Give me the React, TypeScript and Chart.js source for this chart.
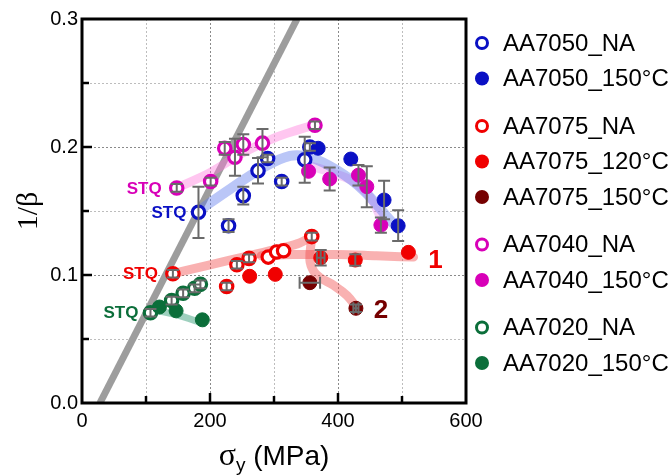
import React, { useEffect, useRef } from "react";
import { Chart, registerables } from "chart.js";

Chart.register(...registerables);

const SANS = '"Liberation Sans", Arial, sans-serif';
const SERIF = '"Liberation Serif", "Times New Roman", serif';

// ---------- data (σy in MPa, 1/β) ----------
const aa7050NA_x = [182, 229, 252, 275, 290, 312, 348, 356];
const aa7050NA_y = [0.149, 0.1385, 0.162, 0.1815, 0.191, 0.173, 0.19, 0.2];
const aa7050NA_err = [0.02, 0.005, 0.007, 0.01, 0.003, 0.003, 0.018, 0.003];

const aa7050T150_x = [369, 420, 472, 494];
const aa7050T150_y = [0.199, 0.1906, 0.1586, 0.1385];
const aa7050T150_err = [0, 0, 0.015, 0.012];

const aa7075NA_x = [142, 226, 242, 261, 291, 304, 315, 359];
const aa7075NA_y = [0.101, 0.091, 0.108, 0.113, 0.114, 0.118, 0.119, 0.13];
const aa7075NA_err = [0.003, 0.003, 0.003, 0.003, 0, 0, 0, 0.003];

const aa7075T120_x = [262, 302, 373, 427, 510];
const aa7075T120_y = [0.099, 0.1005, 0.1135, 0.1117, 0.1177];
const aa7075T120_err = [0, 0, 0.006, 0.0045, 0];
const aa7075T120_xerr = [0, 0, 6, 0, 0];

const aa7075T150_x = [356, 428];
const aa7075T150_y = [0.094, 0.074];
const aa7075T150_err = [0, 0.003];
const aa7075T150_xerr = [16, 4];

const aa7040NA_x = [148, 201, 223, 239, 252, 282, 364];
const aa7040NA_y = [0.168, 0.173, 0.199, 0.192, 0.202, 0.203, 0.217];
const aa7040NA_err = [0.003, 0.003, 0.005, 0.0145, 0.008, 0.011, 0.003];

const aa7040T150_x = [354, 387, 432, 445, 467];
const aa7040T150_y = [0.181, 0.175, 0.178, 0.169, 0.139];
const aa7040T150_err = [0, 0.009, 0.008, 0.016, 0.006];

const aa7020NA_x = [107, 140, 158, 176, 185];
const aa7020NA_y = [0.0705, 0.08, 0.0857, 0.0896, 0.0927];
const aa7020NA_err = [0.003, 0.003, 0.003, 0.003, 0.003];

const aa7020T150_x = [121, 147, 188];
const aa7020T150_y = [0.075, 0.072, 0.065];

// guide line and trend bands
const guide_x = [28, 336];
const guide_y = [0, 0.3];

const band7040_x = [148, 200, 250, 300, 335, 362];
const band7040_y = [0.168, 0.18, 0.195, 0.207, 0.213, 0.217];

const band7040T_x = [352, 390, 430, 455, 470];
const band7040T_y = [0.186, 0.18, 0.171, 0.157, 0.141];

const band7050_x = [182, 231, 280, 325, 356, 398, 440, 481, 494];
const band7050_y = [0.15, 0.167, 0.183, 0.193, 0.192, 0.182, 0.166, 0.143, 0.136];

const band7075NA_x = [142, 200, 260, 310, 340, 359];
const band7075NA_y = [0.101, 0.108, 0.115, 0.121, 0.125, 0.13];

const band1_x = [280, 330, 400, 460, 518];
const band1_y = [0.115, 0.116, 0.116, 0.115, 0.114];

const band2_x = [359, 356, 362, 372, 393, 414, 430];
const band2_y = [0.129, 0.112, 0.103, 0.098, 0.092, 0.084, 0.074];

const band7020_x = [108, 147, 190];
const band7020_y = [0.073, 0.069, 0.062];

const xTickLabels = ["0", "200", "400", "600"];
const yTickLabels = ["0.0", "0.1", "0.2", "0.3"];

const BLUE = "#0a10c4";
const RED = "#f00000";
const DARKRED = "#760000";
const MAGENTA = "#d800b8";
const GREEN = "#0b6e3a";

const pts = (xs: number[], ys: number[]) => xs.map((x, i) => ({ x, y: ys[i] }));

function markerSet(label: string, xs: number[], ys: number[], color: string, open: boolean, group: number, order: number, errY?: number[], errX?: number[]) {
  return {
    label,
    data: pts(xs, ys),
    showLine: false,
    pointRadius: open ? 6.2 : 7,
    pointBorderWidth: open ? 3.2 : 1,
    pointBackgroundColor: open ? "#ffffff" : color,
    pointBorderColor: color,
    markerColor: color,
    open,
    group,
    legend: true,
    errY,
    errX,
    order,
  };
}

function bandSet(xs: number[], ys: number[], color: string, width: number, monotone: boolean) {
  return {
    label: "",
    data: pts(xs, ys),
    showLine: true,
    borderColor: color,
    borderWidth: width,
    borderCapStyle: "round",
    borderJoinStyle: "round",
    pointRadius: 0,
    tension: 0.4,
    cubicInterpolationMode: monotone ? "monotone" : "default",
    fill: false,
    legend: false,
    order: 20,
  };
}

const annotations = [
  { ds: 5, idx: 0, text: "STQ", dx: -8, dy: 0, size: 17, align: "right" },
  { ds: 0, idx: 0, text: "STQ", dx: -5, dy: 0, size: 17, align: "right" },
  { ds: 2, idx: 0, text: "STQ", dx: -8, dy: 0, size: 17, align: "right" },
  { ds: 7, idx: 0, text: "STQ", dx: -5, dy: 0, size: 17, align: "right" },
  { ds: 3, idx: 4, text: "1", dx: 27, dy: 7, size: 26, align: "center" },
  { ds: 4, idx: 1, text: "2", dx: 25, dy: 2, size: 26, align: "center" },
];

const near = (v: number, step: number) => Math.abs(v / step - Math.round(v / step)) < 1e-6;

const decorPlugin = {
  id: "decor",
  afterDatasetsDraw(chart: any) {
    const ctx = chart.ctx;
    const xs = chart.scales.x;
    const ys = chart.scales.y;
    const ca = chart.chartArea;
    // error bars
    ctx.save();
    ctx.beginPath();
    ctx.rect(ca.left, ca.top, ca.right - ca.left, ca.bottom - ca.top);
    ctx.clip();
    ctx.strokeStyle = "#6a6a6a";
    ctx.lineWidth = 2;
    chart.data.datasets.forEach((ds: any) => {
      if (!ds.legend) return;
      ds.data.forEach((p: any, i: number) => {
        const px = xs.getPixelForValue(p.x);
        const py = ys.getPixelForValue(p.y);
        const ey = ds.errY ? ds.errY[i] : 0;
        const ex = ds.errX ? ds.errX[i] : 0;
        if (ey) {
          const t = ys.getPixelForValue(p.y + ey);
          const b = ys.getPixelForValue(p.y - ey);
          ctx.beginPath();
          ctx.moveTo(px, t); ctx.lineTo(px, b);
          ctx.moveTo(px - 6, t); ctx.lineTo(px + 6, t);
          ctx.moveTo(px - 6, b); ctx.lineTo(px + 6, b);
          ctx.stroke();
        }
        if (ex) {
          const l = xs.getPixelForValue(p.x - ex);
          const r = xs.getPixelForValue(p.x + ex);
          ctx.beginPath();
          ctx.moveTo(l, py); ctx.lineTo(r, py);
          ctx.moveTo(l, py - 6); ctx.lineTo(l, py + 6);
          ctx.moveTo(r, py - 6); ctx.lineTo(r, py + 6);
          ctx.stroke();
        }
      });
    });
    ctx.restore();

    // annotations
    ctx.save();
    annotations.forEach((a) => {
      const ds: any = chart.data.datasets[a.ds];
      const p = ds.data[a.idx];
      const px = xs.getPixelForValue(p.x) + a.dx - (a.align === "right" ? 7 : 0);
      const py = ys.getPixelForValue(p.y) + a.dy;
      ctx.font = `bold ${a.size}px ${SANS}`;
      ctx.fillStyle = ds.markerColor;
      ctx.textAlign = a.align;
      ctx.textBaseline = "middle";
      ctx.fillText(a.text, px, py + 1);
    });
    ctx.restore();
  },
  afterDraw(chart: any) {
    const ctx = chart.ctx;
    const xs = chart.scales.x;
    const ys = chart.scales.y;
    const ca = chart.chartArea;
    ctx.save();
    // inward ticks
    ctx.strokeStyle = "#000";
    ctx.lineWidth = 2.5;
    for (let v = 100; v < 600; v += 100) {
      const px = xs.getPixelForValue(v);
      const len = v % 200 === 0 ? 10 : 7;
      ctx.beginPath();
      ctx.moveTo(px, ca.bottom); ctx.lineTo(px, ca.bottom - len);
      ctx.stroke();
    }
    for (let k = 1; k < 6; k++) {
      const v = k * 0.05;
      const py = ys.getPixelForValue(v);
      const len = k % 2 === 0 ? 10 : 7;
      ctx.beginPath();
      ctx.moveTo(ca.left, py); ctx.lineTo(ca.left + len, py);
      ctx.stroke();
    }
    // frame
    ctx.lineWidth = 3;
    ctx.strokeRect(ca.left, ca.top, ca.right - ca.left, ca.bottom - ca.top);

    // axis titles
    ctx.fillStyle = "#000";
    ctx.textBaseline = "alphabetic";
    ctx.textAlign = "left";
    const f1 = `32px ${SERIF}`;
    const f2 = `19px ${SANS}`;
    const f3 = `28px ${SANS}`;
    ctx.font = f1; const w1 = ctx.measureText("σ").width;
    ctx.font = f2; const w2 = ctx.measureText("y").width;
    ctx.font = f3; const w3 = ctx.measureText(" (MPa)").width;
    const total = w1 + w2 + w3;
    let x0 = (ca.left + ca.right) / 2 - total / 2;
    const base = 465;
    ctx.font = f1; ctx.fillText("σ", x0, base); x0 += w1;
    ctx.font = f2; ctx.fillText("y", x0, base + 6); x0 += w2;
    ctx.font = f3; ctx.fillText(" (MPa)", x0, base);

    ctx.save();
    ctx.translate(29, (ca.top + ca.bottom) / 2);
    ctx.rotate(-Math.PI / 2);
    ctx.font = `30px ${SERIF}`;
    ctx.textAlign = "center";
    ctx.textBaseline = "middle";
    ctx.fillText("1/β", 0, 0);
    ctx.restore();

    // legend
    const items = chart.data.datasets.filter((d: any) => d.legend);
    let y = 43;
    let prevGroup = items.length ? items[0].group : 0;
    items.forEach((d: any, i: number) => {
      if (i > 0) {
        y += 35.5;
        if (d.group !== prevGroup) y += 12;
      }
      prevGroup = d.group;
      const mx = ca.right + 16;
      ctx.beginPath();
      if (d.open) {
        ctx.arc(mx, y, 5.5, 0, Math.PI * 2);
        ctx.fillStyle = "#fff";
        ctx.fill();
        ctx.lineWidth = 3;
        ctx.strokeStyle = d.markerColor;
        ctx.stroke();
      } else {
        ctx.arc(mx, y, 7, 0, Math.PI * 2);
        ctx.fillStyle = d.markerColor;
        ctx.fill();
      }
      ctx.fillStyle = "#000";
      ctx.font = `24px ${SANS}`;
      ctx.textAlign = "left";
      ctx.textBaseline = "middle";
      ctx.fillText(d.label, ca.right + 37, y + 1);
    });
    ctx.restore();
  },
};

export default function App() {
  const ref = useRef<HTMLCanvasElement>(null);
  useEffect(() => {
    const markers = [
      markerSet("AA7050_NA", aa7050NA_x, aa7050NA_y, BLUE, true, 0, 5, aa7050NA_err),
      markerSet("AA7050_150°C", aa7050T150_x, aa7050T150_y, BLUE, false, 0, 4, aa7050T150_err),
      markerSet("AA7075_NA", aa7075NA_x, aa7075NA_y, RED, true, 1, 6, aa7075NA_err),
      markerSet("AA7075_120°C", aa7075T120_x, aa7075T120_y, RED, false, 1, 3, aa7075T120_err, aa7075T120_xerr),
      markerSet("AA7075_150°C", aa7075T150_x, aa7075T150_y, DARKRED, false, 1, 2, aa7075T150_err, aa7075T150_xerr),
      markerSet("AA7040_NA", aa7040NA_x, aa7040NA_y, MAGENTA, true, 2, 7, aa7040NA_err),
      markerSet("AA7040_150°C", aa7040T150_x, aa7040T150_y, MAGENTA, false, 2, 1, aa7040T150_err),
      markerSet("AA7020_NA", aa7020NA_x, aa7020NA_y, GREEN, true, 3, 8, aa7020NA_err),
      markerSet("AA7020_150°C", aa7020T150_x, aa7020T150_y, GREEN, false, 3, 0),
    ];
    const bands = [
      bandSet(band7040_x, band7040_y, "rgba(255,120,220,0.42)", 9, true),
      bandSet(band7050_x, band7050_y, "rgba(90,120,235,0.42)", 10, false),
      bandSet(band7040T_x, band7040T_y, "rgba(230,110,230,0.32)", 9, true),
      bandSet(band7075NA_x, band7075NA_y, "rgba(240,70,70,0.42)", 9, true),
      bandSet(band1_x, band1_y, "rgba(240,70,70,0.42)", 9, true),
      bandSet(band2_x, band2_y, "rgba(240,70,70,0.42)", 9, false),
      bandSet(band7020_x, band7020_y, "rgba(40,150,110,0.45)", 7, true),
    ];
    const guide = {
      label: "",
      data: pts(guide_x, guide_y),
      showLine: true,
      borderColor: "#9d9d9d",
      borderWidth: 7,
      pointRadius: 0,
      legend: false,
      order: 30,
    };

    const chart = new Chart(ref.current as HTMLCanvasElement, {
      type: "scatter",
      data: { datasets: [...markers, ...bands, guide] as any },
      plugins: [decorPlugin as any],
      options: {
        animation: false,
        responsive: false,
        events: [],
        layout: { padding: { left: 0, top: 19, right: 206, bottom: 0 } },
        plugins: { legend: { display: false }, tooltip: { enabled: false } },
        scales: {
          x: {
            type: "linear",
            min: 0,
            max: 600,
            afterFit: (s: any) => { s.height = 72; },
            ticks: {
              stepSize: 100,
              autoSkip: false,
              maxRotation: 0,
              padding: 6,
              color: "#000",
              font: { family: SANS, size: 20 },
              callback: (v: any) => {
                const n = Number(v);
                return near(n, 200) ? xTickLabels[Math.round(n / 200)] : "";
              },
            },
            grid: {
              drawTicks: false,
              lineWidth: 1,
              color: (c: any) => {
                const v = c.tick ? c.tick.value : 0;
                if (v <= 0 || v >= 600) return "rgba(0,0,0,0)";
                return near(v, 200) ? "#8a8a8a" : "#bdbdbd";
              },
            },
            border: { display: false, dash: [2, 2] },
          },
          y: {
            type: "linear",
            min: 0,
            max: 0.3,
            afterFit: (s: any) => { s.width = 82; },
            ticks: {
              stepSize: 0.05,
              autoSkip: false,
              padding: 4,
              color: "#000",
              font: { family: SANS, size: 20 },
              callback: (v: any) => {
                const n = Number(v);
                return near(n, 0.1) ? yTickLabels[Math.round(n / 0.1)] : "";
              },
            },
            grid: {
              drawTicks: false,
              lineWidth: 1,
              color: (c: any) => {
                const v = c.tick ? c.tick.value : 0;
                if (v <= 1e-6 || v >= 0.3 - 1e-6) return "rgba(0,0,0,0)";
                return near(v, 0.1) ? "#8a8a8a" : "#bdbdbd";
              },
            },
            border: { display: false, dash: [2, 2] },
          },
        },
      } as any,
    });
    return () => chart.destroy();
  }, []);

  return (
    <div style={{ position: "fixed", left: 0, top: 0, width: 672, height: 475, background: "#fff" }}>
      <canvas ref={ref} width={672} height={475} style={{ display: "block", width: 672, height: 475 }} />
    </div>
  );
}
